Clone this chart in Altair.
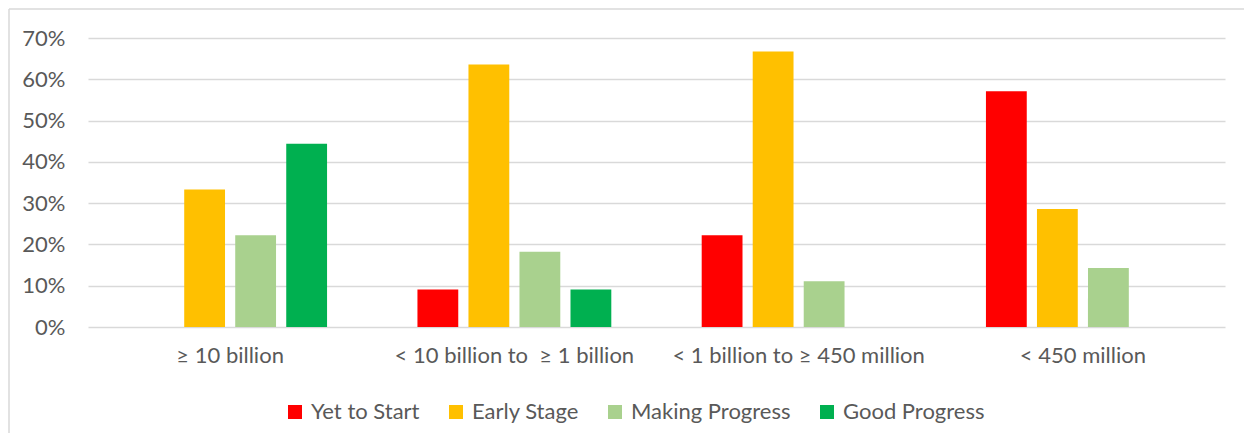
import altair as alt
import pandas as pd

categories = ["≥ 10 billion", "< 10 billion to \u00a0≥ 1 billion", "< 1 billion to ≥ 450 million", "< 450 million"]
statuses = ["Yet to Start", "Early Stage", "Making Progress", "Good Progress"]
colors = ["#FF0000", "#FFC000", "#A9D18E", "#00B050"]

yet_to_start = [0.0, 0.091, 0.222, 0.571]
early_stage = [0.333, 0.636, 0.667, 0.286]
making_progress = [0.222, 0.182, 0.111, 0.143]
good_progress = [0.444, 0.091, 0.0, 0.0]

series = [yet_to_start, early_stage, making_progress, good_progress]
rows = []
for s, vals in zip(statuses, series):
    for c, v in zip(categories, vals):
        rows.append({"category": c, "status": s, "value": v})
df = pd.DataFrame(rows)

FONT = "Lato"
TXT = "#595959"
FS = 22

bars = alt.Chart(df).mark_bar().encode(
    x=alt.X("category:N", sort=categories, title=None,
            scale=alt.Scale(paddingInner=0.318, paddingOuter=0.159),
            axis=alt.Axis(labelAngle=0, domain=False, ticks=False, labelPadding=18,
                          labelFontSize=FS, labelFont=FONT, labelColor=TXT, grid=False,
                          labelLimit=0)),
    xOffset=alt.XOffset("status:N", sort=statuses,
                        scale=alt.Scale(paddingInner=0.2, paddingOuter=0)),
    y=alt.Y("value:Q", title=None,
            scale=alt.Scale(domain=[0, 0.7]),
            axis=alt.Axis(format=".0%", values=[0, 0.1, 0.2, 0.3, 0.4, 0.5, 0.6, 0.7],
                          domain=False, ticks=False, labelPadding=23,
                          labelFontSize=FS, labelFont=FONT, labelColor=TXT,
                          grid=True, gridColor="#D9D9D9", gridWidth=1.5)),
    color=alt.Color("status:N", sort=statuses,
                    scale=alt.Scale(domain=statuses, range=colors),
                    legend=alt.Legend(title=None, orient="none", direction="horizontal",
                                      legendX=196, legendY=363, padding=0,
                                      symbolType="square", symbolSize=196,
                                      symbolStrokeWidth=0, labelFontSize=FS,
                                      labelFont=FONT, labelColor=TXT, labelOffset=5,
                                      columnPadding=25, labelLimit=0)),
)

frame_data = alt.Data(values=[{}])
left_rule = alt.Chart(frame_data).mark_rule(color="#D9D9D9", strokeWidth=1.5).encode(
    x=alt.value(-79), y=alt.value(-29), y2=alt.value(400))
top_rule = alt.Chart(frame_data).mark_rule(color="#D9D9D9", strokeWidth=1.5).encode(
    x=alt.value(-79), x2=alt.value(1160), y=alt.value(-29))

chart = alt.layer(bars, left_rule, top_rule).properties(
    width=1137, height=289,
    autosize=alt.AutoSizeParams(type="none"),
    padding={"left": 80, "top": 30, "right": 19, "bottom": 106},
).configure_view(stroke=None)

chart.save("out.html", embed_options={"renderer": "svg", "actions": False})
